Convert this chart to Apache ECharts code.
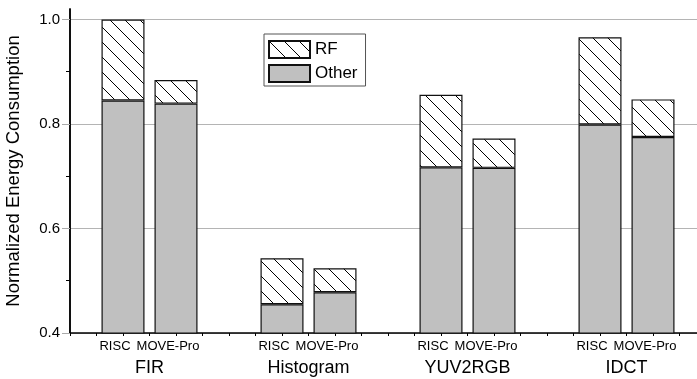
<!DOCTYPE html>
<html>
<head>
<meta charset="utf-8">
<script src="https://cdn.jsdelivr.net/npm/echarts@6/dist/echarts.min.js"></script>
<style>html,body{margin:0;padding:0;background:#fff}#c{width:697px;height:379px}</style>
</head>
<body>
<div id="c"></div>
<script>
// ---- data ----
const benchmarks = ['FIR', 'Histogram', 'YUV2RGB', 'IDCT'];
const machines = ['RISC', 'MOVE-Pro'];
// "Other" energy (bottom, gray) per benchmark
const otherRISC = [0.845, 0.455, 0.717, 0.799];
const otherMOVE = [0.839, 0.478, 0.716, 0.775];
// "RF" energy (top, hatched)
const rfRISC = [0.155, 0.088, 0.139, 0.167];
const rfMOVE = [0.045, 0.046, 0.056, 0.072];
const yTicks = [0.4, 0.6, 0.8, 1.0];
const yMinorTicks = [0.5, 0.7, 0.9];

// slots along x: each benchmark takes three slots (RISC, MOVE-Pro, gap), slot 0 empty
const NSLOT = 13;
const slotNames = [];
const otherData = [], rfData = [];
for (let i = 0; i < NSLOT; i++) { slotNames.push('s' + i); otherData.push('-'); rfData.push('-'); }
benchmarks.forEach((b, g) => {
  const s = g * 3 + 1;
  otherData[s] = otherRISC[g]; rfData[s] = rfRISC[g];
  otherData[s + 1] = otherMOVE[g]; rfData[s + 1] = rfMOVE[g];
});

// hatch pattern
const pc = document.createElement('canvas');
pc.width = 15; pc.height = 15;
const ctx = pc.getContext('2d');
ctx.fillStyle = '#fff'; ctx.fillRect(0, 0, 15, 15);
ctx.strokeStyle = '#000'; ctx.lineWidth = 1;
ctx.beginPath();
[-15, 0, 15].forEach(o => { ctx.moveTo(o, 0); ctx.lineTo(o + 15, 15); });
ctx.stroke();

const FONT = 'Liberation Sans';
const chart = echarts.init(document.getElementById('c'), null, {renderer: 'canvas'});
chart.setOption({
  animation: false,
  textStyle: {fontFamily: FONT, color: '#000'},
  grid: {left: 70, top: 9, width: 636, height: 324, containLabel: false, outerBoundsMode: 'none'},
  legend: {
    orient: 'vertical', left: 264, top: 34,
    data: ['RF', 'Other'],
    icon: 'rect',
    itemWidth: 41, itemHeight: 17, itemGap: 5,
    padding: [6, 8, 3, 4],
    borderColor: '#555', borderWidth: 1,
    textStyle: {fontFamily: FONT, fontSize: 17, color: '#000'},
    selectedMode: false
  },
  xAxis: [{
    type: 'value', min: 0, max: 12, interval: 0.5,
    axisLine: {show: true, lineStyle: {color: '#000', width: 1.5}},
    axisTick: {show: true, inside: false, length: 3, lineStyle: {color: '#000'}},
    splitLine: {show: false},
    axisLabel: {
      fontSize: 13, margin: 7, color: '#000', fontFamily: FONT,
      padding: [0, 16, 0, 0],
      formatter: v => {
        const k = Math.round(v * 2);
        if (k % 2 !== 0) return '';
        const s = k / 2;
        const m = (s - 1) % 3;
        if (s < 1 || m > 1) return '';
        return machines[m];
      }
    }
  }, {
    type: 'value', min: 0, max: 12, interval: 0.5, position: 'bottom', offset: 21,
    axisLine: {show: false}, axisTick: {show: false}, splitLine: {show: false},
    axisLabel: {
      fontSize: 18, margin: 5, color: '#000', fontFamily: FONT,
      formatter: v => {
        const k = Math.round(v * 2);
        if ((k - 3) % 6 !== 0 || k < 3) return '';
        return benchmarks[(k - 3) / 6] || '';
      }
    }
  }, {
    type: 'category', data: slotNames, boundaryGap: false, position: 'bottom', show: false
  }],
  yAxis: [{
    type: 'value', min: 0.4, max: 1.02, interval: 0.2,
    name: 'Normalized Energy Consumption', nameLocation: 'middle', nameRotate: 90, nameGap: 47,
    nameTextStyle: {fontSize: 18.5, fontFamily: FONT, color: '#000'},
    axisLine: {show: true, lineStyle: {color: '#000', width: 1.5}},
    axisTick: {show: true, length: 8, customValues: yTicks, lineStyle: {color: '#aaa'}},
    axisLabel: {fontSize: 15, margin: 10, color: '#000', fontFamily: FONT, customValues: yTicks,
      formatter: v => v.toFixed(1)},
    splitLine: {show: true, lineStyle: {color: '#b4b4b4', width: 1.2}}
  }, {
    type: 'value', min: 0.4, max: 1.02, interval: 0.1, position: 'left',
    axisLine: {show: true, lineStyle: {color: '#000', width: 1.5}},
    axisTick: {show: true, length: 4, customValues: yMinorTicks, lineStyle: {color: '#000'}},
    axisLabel: {show: false}, splitLine: {show: false}
  }],
  series: [{
    name: 'Other', type: 'bar', stack: 'e', barWidth: 43,
    xAxisIndex: 2, yAxisIndex: 0,
    itemStyle: {color: '#c0c0c0', borderColor: '#111', borderWidth: 1.2},
    data: otherData
  }, {
    name: 'RF', type: 'bar', stack: 'e', barWidth: 43,
    xAxisIndex: 2, yAxisIndex: 0,
    itemStyle: {color: {image: pc, repeat: 'repeat'}, borderColor: '#111', borderWidth: 1.2},
    data: rfData
  }]
});
</script>
</body>
</html>
